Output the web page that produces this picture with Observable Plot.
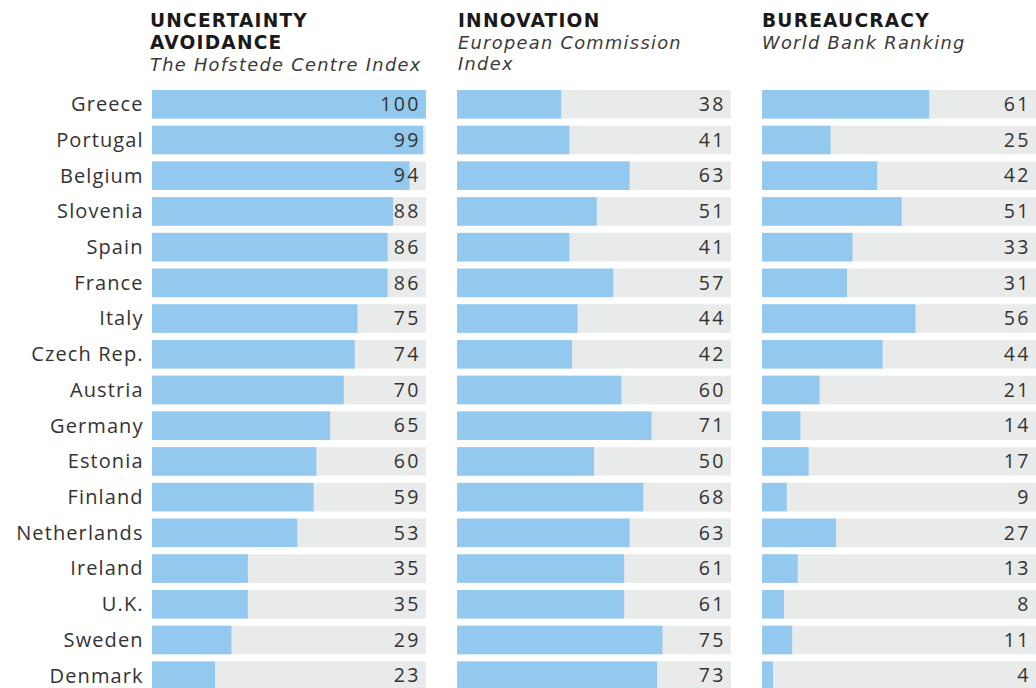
<!DOCTYPE html>
<html>
<head>
<meta charset="utf-8">
<script src="https://cdn.jsdelivr.net/npm/d3@7"></script>
<script src="https://cdn.jsdelivr.net/npm/@observablehq/plot@0.6"></script>
<style>
  html, body { margin: 0; padding: 0; background: #fff; overflow: hidden; }
  #wrap { position: relative; width: 1036px; height: 688px; }
  #head { position: relative; height: 84px; }
  .hd { position: absolute; top: 10px; color: #1a1a1a; }
  .hd .t { font-family: "DejaVu Sans", sans-serif; font-weight: 700; font-size: 18.6px; line-height: 22px; height: 22px; letter-spacing: 1.2px; white-space: nowrap; }
  .hd .s { font-family: "DejaVu Sans", sans-serif; font-style: italic; font-size: 17.8px; line-height: 21px; height: 21px; letter-spacing: 1.3px; color: #3a3a3a; white-space: nowrap; }
  .num text { letter-spacing: 2.4px; }
  .lab text { letter-spacing: 1.1px; }
</style>
</head>
<body>
<div id="wrap">
  <div id="head"></div>
  <div id="chart"></div>
</div>
<script>
const countries = ["Greece","Portugal","Belgium","Slovenia","Spain","France","Italy","Czech Rep.","Austria","Germany","Estonia","Finland","Netherlands","Ireland","U.K.","Sweden","Denmark"];
const metrics = ["uncertainty","innovation","bureaucracy"];
const titles = [["UNCERTAINTY","AVOIDANCE"],["INNOVATION"],["BUREAUCRACY"]];
const subtitles = [["The Hofstede Centre Index"],["European Commission","Index"],["World Bank Ranking"]];
const uncertainty = [100,99,94,88,86,86,75,74,70,65,60,59,53,35,35,29,23];
const innovation = [38,41,63,51,41,57,44,42,60,71,50,68,63,61,61,75,73];
const bureaucracy = [61,25,42,51,33,31,56,44,21,14,17,9,27,13,8,11,4];

const series = {uncertainty, innovation, bureaucracy};
const rows = [];
for (const m of metrics) countries.forEach((c, i) => rows.push({metric: m, country: c, value: series[m][i]}));

const headLeft = [150, 458, 762];
const head = document.getElementById("head");
metrics.forEach((m, k) => {
  const d = document.createElement("div");
  d.className = "hd";
  d.style.left = headLeft[k] + "px";
  d.innerHTML = titles[k].map(t => `<div class="t">${t}</div>`).join("") +
    subtitles[k].map(t => `<div class="s">${t}</div>`).join("");
  head.appendChild(d);
});

const chart = Plot.plot({
  width: 1036,
  height: 606,
  marginLeft: 152,
  marginRight: 0,
  marginTop: 6,
  marginBottom: 0,
  style: {fontFamily: "'Open Sans', sans-serif", fontSize: "19px", color: "#333", background: "transparent"},
  fx: {domain: metrics, paddingInner: 0.102, paddingOuter: 0, round: false, axis: null, label: null},
  x: {domain: [0, 100], axis: null},
  y: {domain: countries, paddingInner: 0.2, paddingOuter: 0, align: 0, round: false, axis: null, label: null},
  marks: [
    Plot.barX(rows, {fx: "metric", y: "country", x1: 0, x2: 100, fill: "#e9eaea"}),
    Plot.barX(rows, {fx: "metric", y: "country", x1: 0, x2: "value", fill: "#93c9ee"}),
    Plot.text(rows, {fx: "metric", y: "country", x: 100, dx: -5.6, text: d => String(d.value), textAnchor: "end", fill: "#333", fontSize: 19.5, className: "num"}),
    Plot.text(rows.filter(d => d.metric === metrics[0]), {fx: "metric", y: "country", x: 0, dx: -8.9, text: "country", textAnchor: "end", fill: "#333", fontSize: 20, className: "lab"})
  ]
});
document.getElementById("chart").appendChild(chart);
</script>
</body>
</html>
